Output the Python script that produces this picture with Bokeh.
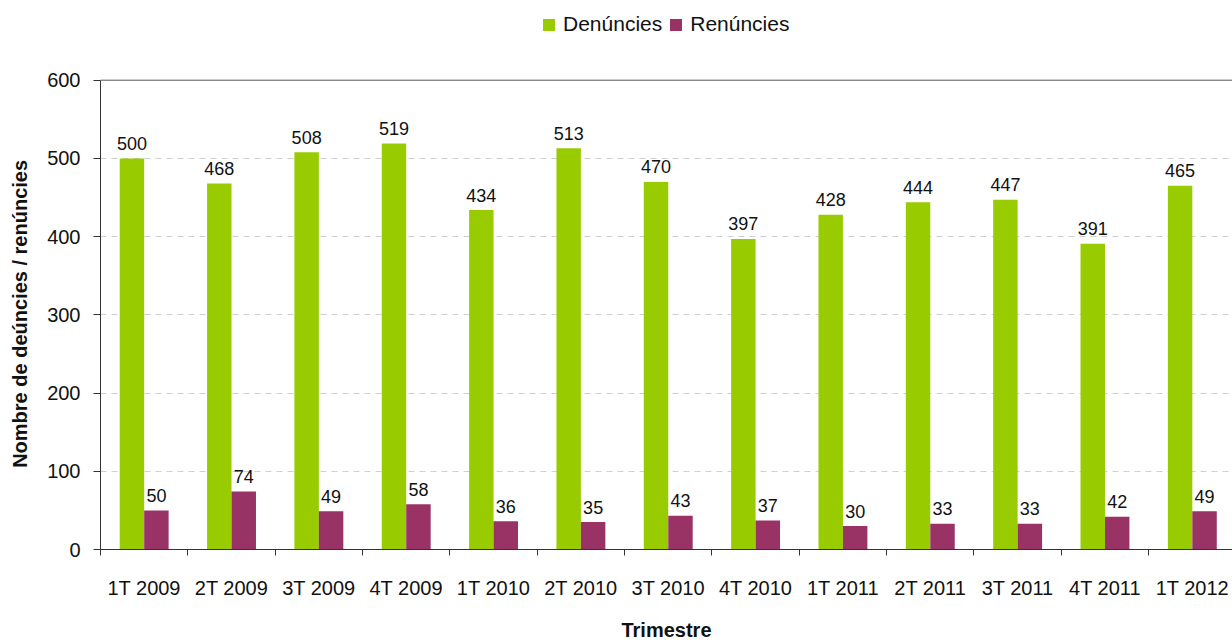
import numpy as np
from bokeh.plotting import figure
from bokeh.models import (ColumnDataSource, Range1d, FixedTicker, Span, Legend, LegendItem)
from bokeh.transform import dodge
from bokeh.core.properties import value
from bokeh.embed import file_html
from bokeh.resources import INLINE

quarters = ["1T 2009", "2T 2009", "3T 2009", "4T 2009", "1T 2010", "2T 2010", "3T 2010",
            "4T 2010", "1T 2011", "2T 2011", "3T 2011", "4T 2011", "1T 2012"]
denuncies = [500, 468, 508, 519, 434, 513, 470, 397, 428, 444, 447, 391, 465]
renuncies = [50, 74, 49, 58, 36, 35, 43, 37, 30, 33, 33, 42, 49]
y_ticks = [0, 100, 200, 300, 400, 500, 600]

GREEN = "#99CC00"
PURPLE = "#993366"
FONT = "Liberation Sans"
TXT = "#111111"

n = len(quarters)
xc = np.arange(n) + 0.5
src = ColumnDataSource(dict(
    xc=xc,
    den=denuncies,
    ren=renuncies,
    den_t=[str(v) for v in denuncies],
    ren_t=[str(v) for v in renuncies],
))

# frame covers the top margin too (legend lives there); axis is bounded to 0..600
p = figure(width=1232, height=643, output_backend="svg", toolbar_location=None,
           x_range=Range1d(0, 12.96), y_range=Range1d(0, 701.9),
           min_border_left=100, min_border_right=0, min_border_top=0, min_border_bottom=92)
p.outline_line_color = None
p.background_fill_color = "white"

off = 0.14
w = 0.28
r1 = p.vbar(x=dodge("xc", -off), top="den", width=w, source=src, fill_color=GREEN, line_color=None)
r2 = p.vbar(x=dodge("xc", off), top="ren", width=w, source=src, fill_color=PURPLE, line_color=None)

for col, tcol, d in (("den", "den_t", -off), ("ren", "ren_t", off)):
    p.text(x=dodge("xc", d), y=col, text=tcol, source=src, text_align="center",
           text_baseline="alphabetic", y_offset=-15, text_font=value(FONT),
           text_font_size="18px", text_color=TXT)

# top frame line at the max of the value axis
p.add_layout(Span(location=y_ticks[-1], dimension="width", line_color="#555555", line_width=1))

# grid
p.xgrid.visible = False
p.ygrid.grid_line_color = "#CFCFCF"
p.ygrid.grid_line_dash = "6 5"
p.ygrid.ticker = FixedTicker(ticks=y_ticks[1:-1])

# y axis
ya = p.yaxis[0]
ya.ticker = FixedTicker(ticks=y_ticks)
ya.bounds = (y_ticks[0], y_ticks[-1])
ya.minor_tick_line_color = None
ya.major_tick_in = 0
ya.major_tick_out = 7
ya.major_label_standoff = 13
ya.major_label_text_font = FONT
ya.major_label_text_font_size = "20px"
ya.major_label_text_color = TXT
ya.axis_line_color = "#333333"
ya.major_tick_line_color = "#333333"
# trailing no-break spaces shift the centred label down to the middle of the 0..600 span
ya.axis_label = "Nombre de deúncies / renúncies" + "\u00a0" * 14
ya.axis_label_text_font = FONT
ya.axis_label_text_font_style = "bold"
ya.axis_label_text_font_size = "20px"
ya.axis_label_text_color = TXT
ya.axis_label_standoff = 13

# x axis
xa = p.xaxis[0]
xa.ticker = FixedTicker(ticks=list(xc), minor_ticks=list(range(n + 1)))
xa.major_label_overrides = {float(x): q for x, q in zip(xc, quarters)}
xa.major_tick_in = 0
xa.major_tick_out = 0
xa.minor_tick_in = 0
xa.minor_tick_out = 6
xa.minor_tick_line_color = "#333333"
xa.axis_line_color = "#333333"
xa.major_label_standoff = 21
xa.major_label_text_font = FONT
xa.major_label_text_font_size = "20px"
xa.major_label_text_color = TXT
xa.axis_label = "Trimestre"
xa.axis_label_text_font = FONT
xa.axis_label_text_font_style = "bold"
xa.axis_label_text_font_size = "20px"
xa.axis_label_text_color = TXT
xa.axis_label_standoff = 17

legend = Legend(items=[LegendItem(label="Denúncies", renderers=[r1]),
                       LegendItem(label="Renúncies", renderers=[r2])],
                location=(441, 513), orientation="horizontal",
                glyph_width=15, glyph_height=15, label_standoff=7, spacing=6,
                padding=0, margin=0, border_line_color=None, background_fill_alpha=0,
                label_text_font=FONT, label_text_font_size="21px",
                label_text_color=TXT)
p.add_layout(legend, "center")

open("out.html", "w").write(file_html(p, INLINE))
